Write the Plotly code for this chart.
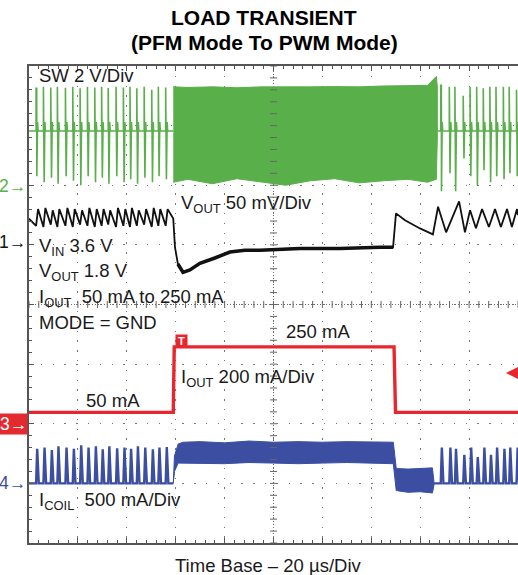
import plotly.graph_objects as go

# ---------------- data (time in µs, 20 µs/div) ----------------
T_UP = 59.0      # load step 50 mA -> 250 mA
T_DOWN = 149.3   # load step 250 mA -> 50 mA

# PFM switching events
pfm_pre_t = [2.9, 5.9, 8.9, 11.6, 14.9, 17.9, 20.9, 23.9, 26.9, 29.7, 32.4,
             35.6, 38.6, 41.3, 44.1, 47.1, 50.2, 52.9, 55.9]
pfm_post_t = [168.4, 171.9, 174.2, 177.6, 180.4, 183.1, 185.8, 188.5,
              191.0, 194.0, 196.4, 199.4]

# SW node (V), 2 V/div
sw_base = 1.82
sw_pre_hi = [3.25, 3.30, 3.28, 3.30, 3.27, 3.30, 3.25, 3.30, 3.28, 3.30, 3.26,
             3.30, 3.28, 3.30, 3.25, 3.30, 3.20, 3.30, 3.28]
sw_pre_lo = [0.30, 0.10, 0.25, 0.05, 0.30, 0.15, 0.00, 0.30, 0.10, 0.25, 0.05,
             0.30, 0.10, 0.20, 0.05, 0.25, 0.10, 0.30, 0.20]
sw_post_hi = [3.35, 3.30, 3.30, 3.00, 3.30, 3.30, 3.25, 3.30, 3.30, 3.30, 3.30, 3.20]
sw_post_lo = [-0.20, 0.40, -0.20, 0.90, 0.30, 0.00, 0.50, 0.10, 0.30, 0.20, 0.40, 0.30]
sw_pwm_t = [59.0, 65.0, 75.0, 85.0, 95.0, 105.0, 115.0, 125.0, 135.0, 145.0, 155.0, 163.0, 166.6, 167.0]
sw_pwm_hi = [3.30, 3.28, 3.30, 3.27, 3.30, 3.29, 3.30, 3.31, 3.30, 3.33, 3.34, 3.35, 3.65, 3.30]
sw_pwm_lo = [0.10, 0.20, 0.05, 0.22, 0.12, 0.00, 0.15, 0.22, 0.08, 0.15, 0.20, 0.10, 0.20, 1.60]

# VOUT AC (mV), 50 mV/div
vout_pre_hi = [30, 31, 29, 30, 31, 30, 29, 31, 30, 30, 29, 31, 30, 31, 29, 30, 31, 30, 30]
vout_pre_lo = [16, 15, 17, 15, 16, 15, 17, 16, 15, 16, 17, 15, 16, 15, 16, 17, 15, 16, 16]
vout_tr_t = [59.0, 59.7, 60.9, 63.0, 65.8, 69.9, 76.0, 82.2, 88.3, 94.5, 110.8,
             127.2, 143.6, 148.9, 150.1, 153.8, 159.9, 165.2]
vout_tr_mv = [22, -2, -16, -23, -21, -15.5, -11, -6, -4.6, -4.6, -3, -3, -2, -2,
              26.4, 20.6, 13.8, 8.8]
vout_post_t = [167.3, 170.6, 175.9, 178.3, 180.4, 182.8, 185.3, 188.1, 190.6,
               193.0, 195.5, 197.5, 199.6, 200.0]
vout_post_mv = [32, 10.5, 36.5, 10.5, 29, 14, 30, 15, 30, 15, 30, 15, 30, 25]

# IOUT (mA), 200 mA/div
iout_t = [0.0, T_UP, T_UP + 0.4, T_DOWN, T_DOWN + 0.6, 200.0]
iout_ma = [38, 38, 258, 258, 38, 38]

# ICOIL (mA), 500 mA/div
coil_pre_pk = [290, 300, 280, 310, 300, 290, 320, 300, 310, 285, 310, 295,
               300, 290, 310, 300, 285, 300, 305]
coil_post_pk = [300, 300, 290, 240, 300, 220, 300, 240, 300, 290, 300, 300]
coil_band_t = [59.0, 59.5, 61.0, 63.0, 70.0, 80.0, 90.0, 100.0, 110.0, 120.0,
               130.0, 140.0, 149.0, 150.2, 155.0, 160.0, 165.0, 165.6]
coil_band_hi = [0, 230, 330, 345, 350, 340, 355, 345, 350, 345, 350, 345, 345,
                125, 120, 125, 130, 20]
coil_band_lo = [0, 100, 170, 175, 170, 165, 175, 170, 165, 170, 175, 170, 165,
                -60, -75, -70, -80, -20]

# channel screen settings: (ground division, units per division)
CH1 = (5, 50.0)    # VOUT mV
CH2 = (6, 2.0)     # SW V
CH3 = (2, 200.0)   # IOUT mA
CH4 = (1, 500.0)   # ICOIL mA


def scr(vals, ch):
    g, s = ch
    return [None if v is None else g + v / s for v in vals]


GREEN = "#59AF49"
RED = "#E8262C"
BLUE = "#3B4EA2"
BLACK = "#111111"

fig = go.Figure()

# ---- SW trace ----
sx, sy = [0.0], [sw_base]
for tp, hi, lo in zip(pfm_pre_t, sw_pre_hi, sw_pre_lo):
    sx += [tp, tp, tp + 0.25, tp + 0.3, tp + 0.6, tp + 0.8]
    sy += [sw_base, hi, hi, lo, sw_base + 0.3, sw_base]
sx += [T_UP]
sy += [sw_base]
sx += [None, sw_pwm_t[-1]]
sy += [None, sw_base]
for tp, hi, lo in zip(pfm_post_t, sw_post_hi, sw_post_lo):
    sx += [tp, tp, tp + 0.25, tp + 0.3, tp + 0.6, tp + 0.8]
    sy += [sw_base, hi, hi, lo, sw_base + 0.3, sw_base]
sx += [200.0]
sy += [sw_base]
fig.add_trace(go.Scatter(x=sw_pwm_t + sw_pwm_t[::-1], y=scr(sw_pwm_hi + sw_pwm_lo[::-1], CH2),
                         fill="toself", fillcolor=GREEN, mode="lines",
                         line=dict(color=GREEN, width=1), hoverinfo="skip"))
fig.add_trace(go.Scatter(x=sx, y=scr(sy, CH2), mode="lines",
                         line=dict(color=GREEN, width=1.6), hoverinfo="skip"))

# ---- VOUT trace ----
vx, vy = [0.0], [22]
for tp, hi, lo in zip(pfm_pre_t, vout_pre_hi, vout_pre_lo):
    vx += [tp, tp + 0.8]
    vy += [lo, hi]
vx += vout_tr_t + vout_post_t
vy += vout_tr_mv + vout_post_mv
fig.add_trace(go.Scatter(x=vx, y=scr(vy, CH1), mode="lines",
                         line=dict(color=BLACK, width=1.8), hoverinfo="skip"))
fig.add_trace(go.Scatter(x=vout_tr_t[2:14], y=scr(vout_tr_mv[2:14], CH1), mode="lines",
                         line=dict(color=BLACK, width=3.5), hoverinfo="skip"))

# ---- IOUT trace ----
fig.add_trace(go.Scatter(x=iout_t, y=scr(iout_ma, CH3), mode="lines",
                         line=dict(color=RED, width=3.4), hoverinfo="skip"))

# ---- ICOIL trace ----
fig.add_trace(go.Scatter(x=coil_band_t + coil_band_t[::-1],
                         y=scr(coil_band_hi + coil_band_lo[::-1], CH4),
                         fill="toself", fillcolor=BLUE, mode="lines",
                         line=dict(color=BLUE, width=1), hoverinfo="skip"))
cx, cy = [0.0], [0]
for tp, pk in zip(pfm_pre_t, coil_pre_pk):
    cx += [tp, tp + 0.45, tp + 1.1]
    cy += [0, pk, 0]
cx += [T_UP, None, coil_band_t[-1]]
cy += [0, None, 0]
for tp, pk in zip(pfm_post_t, coil_post_pk):
    cx += [tp, tp + 0.45, tp + 1.1]
    cy += [0, pk, 0]
cx += [200.0]
cy += [0]
fig.add_trace(go.Scatter(x=cx, y=scr(cy, CH4), mode="lines",
                         line=dict(color=BLUE, width=2.4), hoverinfo="skip"))

# ---- centre cross tick marks (scope graticule) ----
ctx = [4.0 * i for i in range(51)]
fig.add_trace(go.Scatter(x=ctx, y=[4] * len(ctx), mode="markers",
                         marker=dict(symbol="line-ns", size=5, line=dict(color="#666", width=1)),
                         hoverinfo="skip"))
cty = [0.2 * i for i in range(41)]
fig.add_trace(go.Scatter(x=[100] * len(cty), y=cty, mode="markers",
                         marker=dict(symbol="line-ew", size=5, line=dict(color="#666", width=1)),
                         hoverinfo="skip"))

# ---------------- layout ----------------
L, T, W, H = 29, 66, 489, 477


def px(x):
    return (x - L) / W


def py(y):
    return (T + H - y) / H


FONT = "Liberation Sans, Arial, Helvetica, sans-serif"
ann = []


def txt(text, x, y, size=18.5, color="#1a1a1a", xanchor="left", **kw):
    ann.append(dict(text=text, x=px(x), y=py(y), xref="paper", yref="paper",
                    xanchor=xanchor, yanchor="middle", showarrow=False,
                    font=dict(family=FONT, size=size, color=color), **kw))


txt("<b>LOAD TRANSIENT</b>", 264, 17, size=21, color="#000", xanchor="center")
txt("<b>(PFM Mode To PWM Mode)</b>", 264, 42, size=21, color="#000", xanchor="center")
txt("SW 2 V/Div", 37, 75)
txt("V<sub>OUT</sub> 50 mV/Div", 179, 204)
txt("V<sub>IN</sub> 3.6 V", 37, 247)
txt("V<sub>OUT</sub> 1.8 V", 37, 272)
txt("I<sub>OUT</sub>  50 mA to 250 mA", 37, 298)
txt("MODE = GND", 37, 322)
txt("250 mA", 284, 331)
txt("I<sub>OUT</sub> 200 mA/Div", 179, 378)
txt("50 mA", 84, 400)
txt("I<sub>COIL</sub>  500 mA/Div", 37, 501)
txt("Time Base – 20 µs/Div", 268, 565, xanchor="center")

# channel markers at the left edge
txt("2→", 28, 186, size=17.5, color=GREEN, xanchor="right")
txt("1→", 28, 242, size=17.5, color=BLACK, xanchor="right")
txt("3→", 28, 424, size=17.5, color="#fff", xanchor="right", bgcolor="#E32A2E", borderpad=0)
txt("4→", 28, 483, size=17.5, color=BLUE, xanchor="right")

# trigger marker "T"
ann.append(dict(text="<b>T</b>", x=px(181.5), y=py(340.5), xref="paper", yref="paper",
                xanchor="center", yanchor="middle", showarrow=False, width=11, height=11,
                bgcolor=RED, borderpad=0, font=dict(family=FONT, size=11, color="#fff")))
# trigger level arrow on the right
ann.append(dict(text="", x=px(506), y=py(373), xref="paper", yref="paper",
                showarrow=True, ax=12, ay=0, arrowhead=2, arrowsize=1.1, arrowwidth=2.2,
                arrowcolor=RED))

fig.update_layout(
    width=518, height=575,
    margin=dict(l=L, r=0, t=T, b=575 - T - H, autoexpand=False),
    paper_bgcolor="white", plot_bgcolor="white",
    showlegend=False,
    annotations=ann,
    font=dict(family=FONT),
    xaxis=dict(range=[0, 200], dtick=20, showgrid=True, gridcolor="#777", gridwidth=1.3,
               griddash="1.3px,8.5px", zeroline=False, showticklabels=False,
               showline=True, linecolor="#555", linewidth=2, mirror="ticks",
               ticks="inside", ticklen=5, tickcolor="#555", tickwidth=1,
               minor=dict(dtick=4, ticks="inside", ticklen=3, tickcolor="#555", showgrid=False)),
    yaxis=dict(range=[0, 8], dtick=1, showgrid=True, gridcolor="#777", gridwidth=1.3,
               griddash="1.3px,10.5px", zeroline=False, showticklabels=False,
               showline=True, linecolor="#555", linewidth=2, mirror=False,
               ticks="inside", ticklen=5, tickcolor="#555", tickwidth=1,
               minor=dict(dtick=0.2, ticks="inside", ticklen=3, tickcolor="#555", showgrid=False)),
)
fig.add_shape(type="line", x0=100, x1=100, y0=0, y1=8, xref="x", yref="y",
              line=dict(color="#666", width=1, dash="1px,2px"), layer="below")
fig.add_shape(type="line", x0=0, x1=200, y0=4, y1=4, xref="x", yref="y",
              line=dict(color="#666", width=1, dash="1px,2px"), layer="below")

fig.write_html("out.html", config={"displayModeBar": False},
               post_script="document.body.style.margin='0';document.body.style.overflow='hidden';")
